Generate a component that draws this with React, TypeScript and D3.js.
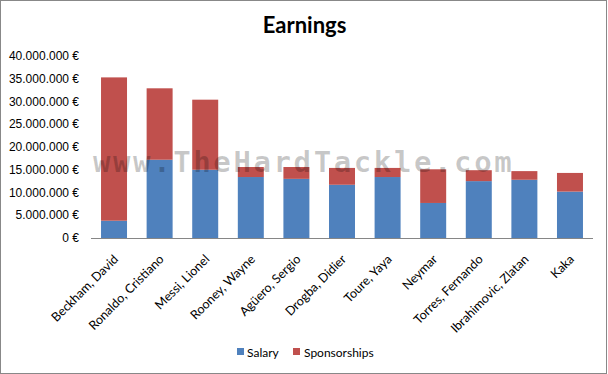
import React from 'react';
import * as d3 from 'd3';

const players = ['Beckham, David', 'Ronaldo, Cristiano', 'Messi, Lionel', 'Rooney, Wayne', 'Agüero, Sergio',
  'Drogba, Didier', 'Toure, Yaya', 'Neymar', 'Torres, Fernando', 'Ibrahimovic, Zlatan', 'Kaka'];
const salary = [3.8, 17.2, 15.0, 13.4, 13.0, 11.7, 13.4, 7.7, 12.5, 12.8, 10.2];
const sponsorships = [31.5, 15.7, 15.4, 2.2, 2.6, 3.7, 2.0, 7.4, 2.4, 1.9, 4.1];
const yTicks = [0, 5, 10, 15, 20, 25, 30, 35, 40];

const W = 608, H = 374;
const margin = { top: 56, right: 15, bottom: 136, left: 91 };
const innerW = W - margin.left - margin.right;
const innerH = H - margin.top - margin.bottom;
const font = '"Liberation Sans", Arial, sans-serif';
const labelFont = 'Lato, "Liberation Sans", sans-serif';
const colors = { salary: '#4F81BD', spons: '#C0504D', axis: '#868686', text: '#000' };

const fmt = (v: number) => v === 0 ? '0 €' : d3.format(',')(v * 1e6).replace(/,/g, '.') + ' €';

export default function App() {
  const x = d3.scaleBand().domain(players).range([0, innerW]).paddingInner(0.43).paddingOuter(0.22);
  const y = d3.scaleLinear().domain([0, 40]).range([innerH, 0]);

  return (
    <svg width={W} height={H} style={{ position: 'absolute', left: 0, top: 0, background: '#fff' }}>
      <rect x={0.5} y={0.5} width={W - 2} height={H - 1} fill="#fff" stroke="#888" />
      <text x={304.5} y={33} textAnchor="middle" fontFamily={labelFont} fontWeight="bold" fontSize={22}>Earnings</text>
      <g transform={`translate(${margin.left},${margin.top})`}>
        {yTicks.map(t => (
          <text key={t} x={-12} y={y(t)} dy="0.35em" textAnchor="end" fontFamily={font} fontSize={12} fill={colors.text}>
            {fmt(t)}
          </text>
        ))}
        {players.map((p, i) => (
          <g key={p}>
            <rect x={x(p)} width={x.bandwidth()} y={y(salary[i])} height={innerH - y(salary[i])} fill={colors.salary} />
            <rect x={x(p)} width={x.bandwidth()} y={y(salary[i] + sponsorships[i])}
              height={y(salary[i]) - y(salary[i] + sponsorships[i])} fill={colors.spons} />
          </g>
        ))}
        <line x1={0} x2={innerW} y1={innerH + 0.5} y2={innerH + 0.5} stroke={colors.axis} />
        {players.map(p => {
          const cx = (x(p) as number) + x.bandwidth() / 2 + 5;
          return (
            <text key={p} transform={`translate(${cx},${innerH + 22}) rotate(-45)`} textAnchor="end"
              fontFamily={labelFont} fontSize={12.5} fill={colors.text}>{p}</text>
          );
        })}
      </g>
      <text x={93} y={172} fontFamily='"DejaVu Sans Mono", monospace' fontWeight="bold" fontSize={29}
        letterSpacing={2.6} fill="#000" fillOpacity={0.22}>www.TheHardTackle.com</text>
      <g fontFamily={labelFont} fontSize={12}>
        <rect x={237} y={348} width={7} height={7} fill={colors.salary} />
        <text x={247} y={357}>Salary</text>
        <rect x={293} y={348} width={7} height={7} fill={colors.spons} />
        <text x={304} y={357}>Sponsorships</text>
      </g>
    </svg>
  );
}
